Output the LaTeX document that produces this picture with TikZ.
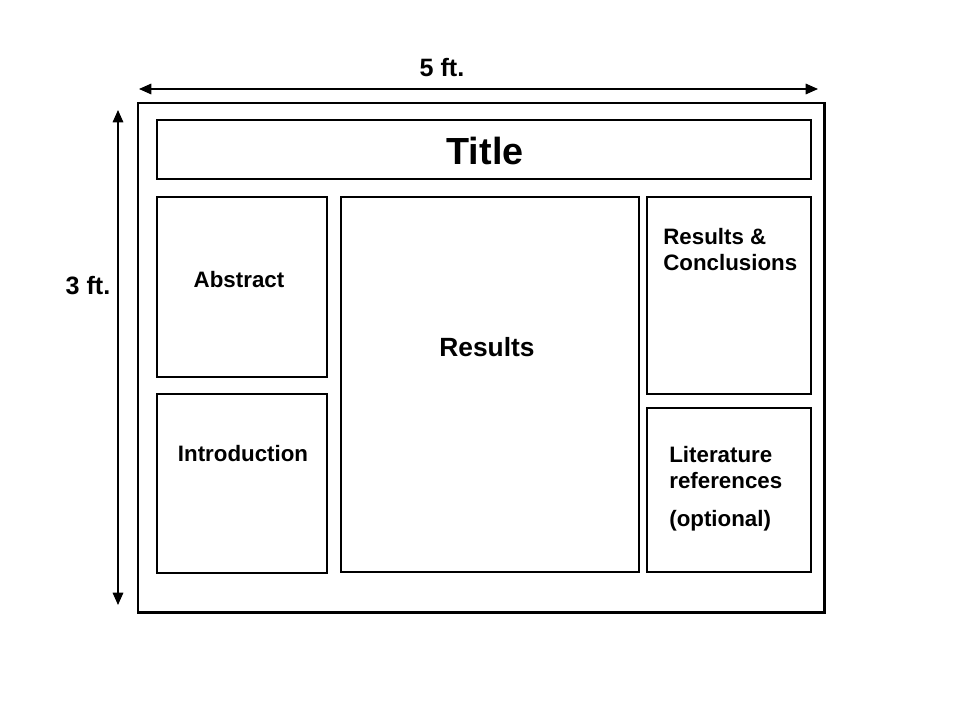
\documentclass[tikz,border=0pt]{standalone}
\usepackage{fontspec}
\setmainfont{Liberation Sans}
\usetikzlibrary{arrows.meta}

\tikzset{
  frame/.style={line width=1.7pt},
  panel/.style={line width=1.1pt},
  dim/.style={line width=0.85pt, {Triangle[length=7pt,width=6pt]}-{Triangle[length=7pt,width=6pt]}},
  lbl/.style={inner sep=0pt, font=\bfseries\fontsize{12.7}{15.3}\selectfont},
  dimlbl/.style={inner sep=0pt, font=\bfseries\fontsize{14.3}{17}\selectfont},
}

\begin{document}
\begin{tikzpicture}[x=0.02cm, y=-0.02cm]
\useasboundingbox (0,0) rectangle (960,720);

% poster sheet and its panels
\draw[frame] (138,103) rectangle (824,612);
\draw[panel] (157,120) rectangle (811,179);
\draw[panel] (157,197) rectangle (327,377);
\draw[panel] (157,394) rectangle (327,573);
\draw[panel] (341,197) rectangle (639,572);
\draw[panel] (647,197) rectangle (811,394);
\draw[panel] (647,408) rectangle (811,572);

% panel texts
\node[inner sep=0pt, font=\bfseries\fontsize{21.5}{25}\selectfont] (title) at (485,151) {Title};
\node[lbl] (abstract) at (239,280) {Abstract};
\node[lbl] (intro) at (243,454) {Introduction};
\node[inner sep=0pt, font=\bfseries\fontsize{15}{18}\selectfont] (results) at (487,347) {Results};
\node[lbl, align=left, anchor=west] (concl) at (663,249.5) {Results \&\\Conclusions};
\node[lbl, align=left, anchor=west] (lit) at (669,467.5) {Literature\\references};
\node[lbl, anchor=west] (opt) at (669,521) {(optional)};

% dimensions
\coordinate (wl) at (139,89);
\coordinate (wr) at (818,89);
\coordinate (ht) at (118,110);
\coordinate (hb) at (118,605);
\draw[dim] (wl) -- (wr);
\draw[dim] (ht) -- (hb);
\node[dimlbl] (width) at (442,68) {5 ft.};
\node[dimlbl] (height) at (88,286) {3 ft.};

\end{tikzpicture}
\end{document}
